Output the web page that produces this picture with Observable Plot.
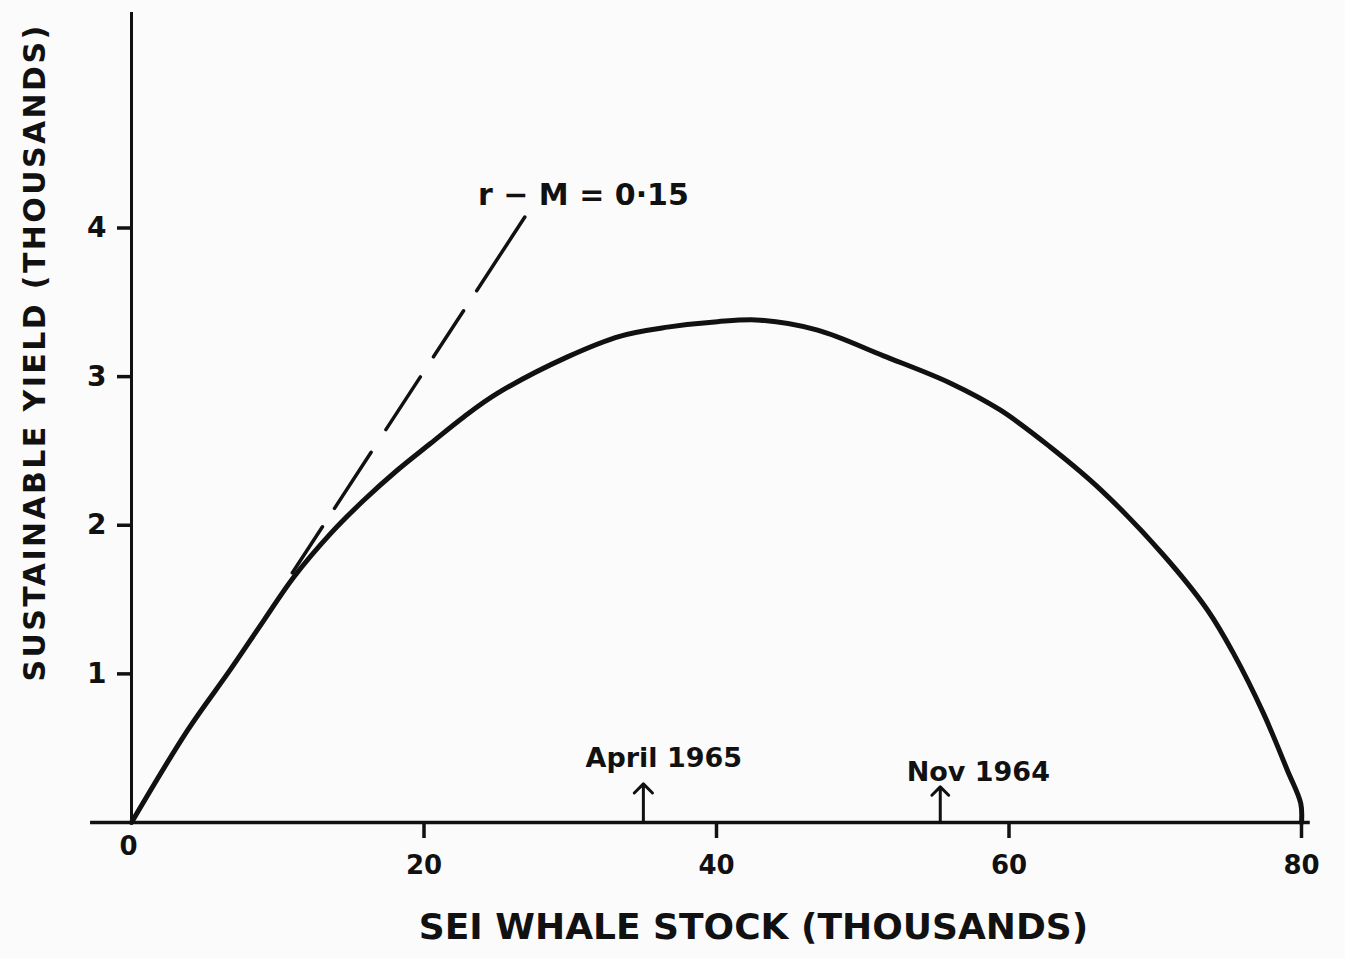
<!DOCTYPE html>
<html>
<head>
<meta charset="utf-8">
<script src="https://cdn.jsdelivr.net/npm/d3@7"></script>
<script src="https://cdn.jsdelivr.net/npm/@observablehq/plot@0.6"></script>
<style>
  html, body { margin: 0; padding: 0; background: #fbfbfb; }
  #chart svg { display: block; }
</style>
</head>
<body>
<div id="chart"></div>
<script>
// Sustainable yield curve (thousands) vs sei whale stock (thousands)
const stock  = [0, 3.83, 6.77, 9.05, 11.10, 13.61, 15.88, 18.17, 20.44, 22.72, 25.01, 29.81, 33.44, 36.65, 40.07, 43.01, 46.91, 51.42, 56.0, 59.42, 62.84, 66.26, 70.56, 73.57, 75.35, 77.40, 79.04, 79.95, 80.0];
const yieldK = [0, 0.62, 1.03, 1.36, 1.652, 1.944, 2.168, 2.370, 2.550, 2.729, 2.887, 3.133, 3.273, 3.333, 3.370, 3.380, 3.313, 3.140, 2.956, 2.774, 2.525, 2.240, 1.800, 1.430, 1.138, 0.734, 0.350, 0.128, 0];

// Tangent line r - M = 0.15 (dashed)
const tangentStock = [11.0, 27.0];
const tangentYield = [1.68, 4.09];
const tangentLabel = ["r − M = 0·15"];
const tangentLabelStock = [30.9];
const tangentLabelYield = [4.22];

// Stock estimates marked with arrows on the x axis
const markLabels = ["April 1965", "Nov 1964"];
const markStock  = [35.0, 55.3];
const markTip    = [0.26, 0.24];
const markLabelStock = [36.4, 57.9];
const markLabelYield = [0.43, 0.34];

// Axes
const xTicks = [20, 40, 60, 80];
const yTicks = [1, 2, 3, 4];
const xLabel = "SEI WHALE STOCK (THOUSANDS)";
const yLabel = "SUSTAINABLE YIELD (THOUSANDS)";

const curve = stock.map((s, i) => ({stock: s, y: yieldK[i]}));
const tangent = tangentStock.map((s, i) => ({stock: s, y: tangentYield[i]}));
const marksData = markLabels.map((t, i) => ({label: t, stock: markStock[i], tip: markTip[i], lx: markLabelStock[i], ly: markLabelYield[i]}));

const font = "'DejaVu Sans', sans-serif";

const chart = Plot.plot({
  width: 1345,
  height: 958,
  marginLeft: 131,
  marginRight: 44,
  marginTop: 12,
  marginBottom: 136,
  x: {domain: [0, 80]},
  y: {domain: [0, 5.45]},
  style: {fontFamily: font, background: "#fbfbfb", color: "#111"},
  marks: [
    Plot.ruleY([0], {x1: -2.8, x2: 80.6, stroke: "#111", strokeWidth: 3.5}),
    Plot.ruleX([0], {y1: 0, y2: 5.45, stroke: "#111", strokeWidth: 3}),
    Plot.axisX({ticks: xTicks, tickSize: 16, tickPadding: 17, fontSize: 26, fontWeight: "bold", strokeWidth: 3.5, label: null, fill: "#111", tickFormat: d3.format("d")}),
    Plot.axisY({ticks: yTicks, tickSize: 14, tickPadding: 11, fontSize: 28, fontWeight: "bold", strokeWidth: 3.5, label: null, fill: "#111", tickFormat: d3.format("d")}),
    Plot.text([0], {x: d => d, y: 0, text: d => String(d), dx: -3, dy: 24, fontSize: 26, fontWeight: "bold", fill: "#111"}),
    Plot.line(tangent, {x: "stock", y: "y", stroke: "#111", strokeWidth: 3.5, strokeDasharray: "55,22,67,27,63,24,55,24,88"}),
    Plot.line(curve, {x: "stock", y: "y", curve: "catmull-rom", stroke: "#111", strokeWidth: 5, strokeLinecap: "round"}),
    Plot.text(tangentLabel, {x: tangentLabelStock, y: tangentLabelYield, text: d => d, fontSize: 30, fontWeight: "bold", fill: "#111"}),
    Plot.arrow(marksData, {x1: "stock", y1: 0, x2: "stock", y2: "tip", headAngle: 90, headLength: 16, stroke: "#111", strokeWidth: 3}),
    Plot.text(marksData, {x: "lx", y: "ly", text: "label", fontSize: 27, fontWeight: "bold", fill: "#111"}),
    Plot.text([xLabel], {frameAnchor: "bottom", text: d => d, textAnchor: "middle", dx: 37, dy: 116, fontSize: 36, fill: "#111", fontWeight: 600}),
    Plot.text([yLabel], {frameAnchor: "left", text: d => d, textAnchor: "middle", rotate: -90, dx: -96, dy: -65, fontSize: 30, fill: "#111", fontWeight: 600})
  ]
});

// hand-lettered axis titles are widely spaced
d3.select(chart).selectAll("text")
  .filter(function () { return this.textContent === yLabel; })
  .attr("letter-spacing", 2.4);

document.getElementById("chart").appendChild(chart);
</script>
</body>
</html>
